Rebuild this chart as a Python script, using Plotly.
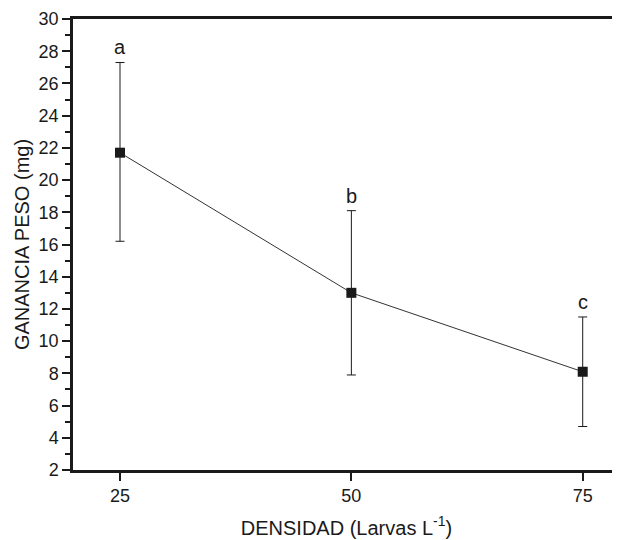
import plotly.graph_objects as go

densidad = [25, 50, 75]
ganancia = [21.7, 13.0, 8.1]
err_plus = [5.6, 5.1, 3.4]
err_minus = [5.5, 5.1, 3.4]
letras = ["a", "b", "c"]

FONT = "Liberation Sans, Arial, sans-serif"
INK = "#1a1a1a"

fig = go.Figure()
fig.add_trace(go.Scatter(
    x=densidad, y=ganancia, mode="lines+markers",
    line=dict(color="#333333", width=1),
    marker=dict(symbol="square", size=10, color=INK),
    error_y=dict(type="data", symmetric=False, array=err_plus, arrayminus=err_minus,
                 color=INK, thickness=1, width=4.5),
    showlegend=False,
))

for x, y, e, t in zip(densidad, ganancia, err_plus, letras):
    fig.add_annotation(x=x, y=y + e, text=t, showarrow=False, yanchor="middle",
                       yshift=15, font=dict(family=FONT, size=20, color=INK))

fig.update_layout(
    width=612, height=532,
    margin=dict(l=65, r=0, t=11, b=70),
    paper_bgcolor="white", plot_bgcolor="white",
    font=dict(family=FONT, color=INK),
)
fig.update_xaxes(
    range=[19.92, 79.03], tickvals=[25, 50, 75], ticks="outside", ticklen=8, tickwidth=1.5,
    tickcolor=INK, showline=True, linewidth=2.5, linecolor=INK, mirror=True,
    showgrid=False, zeroline=False, tickfont=dict(size=18), automargin=False,
    title=dict(text="DENSIDAD (Larvas L<sup>-1</sup>)", font=dict(size=20), standoff=16),
)
fig.update_yaxes(
    range=[2, 30], dtick=2, tick0=2, ticks="outside", ticklen=8, tickwidth=1.5,
    tickcolor=INK, showline=True, linewidth=2.5, linecolor=INK, mirror=False,
    showgrid=False, zeroline=False, tickfont=dict(size=18), automargin=False,
    minor=dict(dtick=1, ticks="outside", ticklen=5, tickwidth=1.5, tickcolor=INK, showgrid=False),
    title=dict(text="GANANCIA PESO (mg)", font=dict(size=20), standoff=4),
)

fig.write_html("out.html")
